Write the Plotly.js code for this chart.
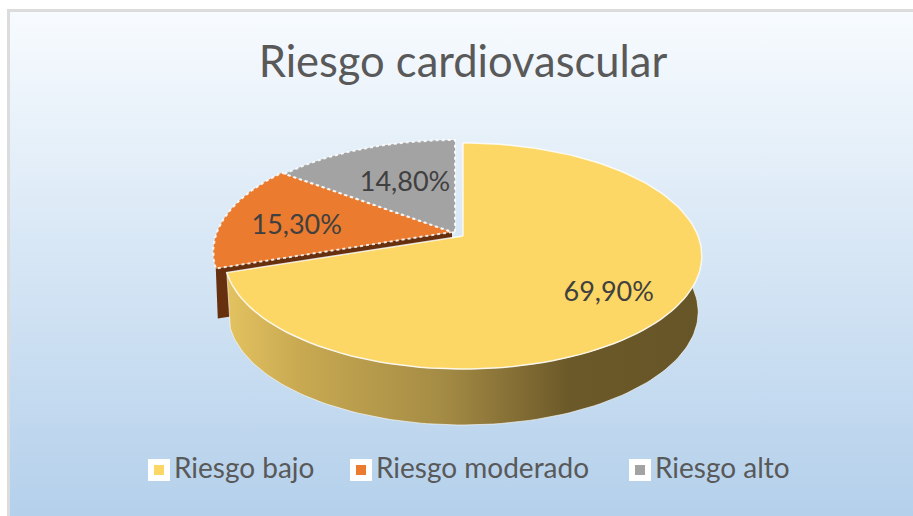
<!DOCTYPE html>
<html><head><meta charset="utf-8">
<script src="https://cdn.plot.ly/plotly-3.0.1.min.js"></script>
<style>
html,body{margin:0;padding:0;background:#fff;width:913px;height:516px;overflow:hidden}
#bg{position:absolute;left:7px;top:9px;right:0;bottom:0;box-sizing:border-box;border-left:3px solid #dcdcdc;border-top:3px solid #dcdcdc;background:linear-gradient(#f7fbfe,#b4d0eb)}
#chart{position:absolute;left:0;top:0;width:913px;height:516px}
</style></head><body>
<div id="bg"></div><div id="chart"></div>
<script>
const chartTitle = 'Riesgo cardiovascular';
const categories = ['Riesgo bajo', 'Riesgo moderado', 'Riesgo alto'];
const shares = [69.9, 15.3, 14.8];
const colors = ['#fcd765', '#eb7b2e', '#a3a3a3'];

// projection of the tilted disc onto the page
const disc = {x0: 463, y0: 236, a: 235, b: 67.7, k: 0.177, depth: 56, shrink: 0.985};
const explode = [[0, 0], [-11, -4], [-8, -3]];
const labelRadius = [0.74, 0.66, 0.58];
const labelNudge = [[-7, 7], [-5, 7], [6, 3]];
const legendX = [159, 361, 640];
const legendY = 470;
const legendTextGap = 15;

function project(fraction, r, shift) {
  const t = fraction * 2 * Math.PI;
  const u = r * Math.sin(t), v = r * Math.cos(t);
  const den = 1 + disc.k * v;
  return [disc.x0 + shift[0] + disc.a * u / den, (disc.y0 - disc.b * v) / den + shift[1]];
}
function arc(f0, f1, shift) {
  const pts = [], n = 120;
  for (let i = 0; i <= n; i++) pts.push(project(f0 + (f1 - f0) * i / n, 1, shift));
  return pts;
}
const total = shares.reduce((a, b) => a + b, 0);
const starts = [];
shares.reduce((acc, s, i) => { starts[i] = acc; return acc + s / total; }, 0);
const ends = starts.map((s, i) => s + shares[i] / total);

function poly(pts, extra) {
  return Object.assign({
    type: 'scatter', mode: 'lines', fill: 'toself', hoverinfo: 'skip', showlegend: false,
    x: pts.map(p => p[0]), y: pts.map(p => p[1])
  }, extra);
}
function wedge(i) {
  const apex = project(0, 0, explode[i]);
  const pts = [apex].concat(arc(starts[i], ends[i], explode[i]));
  pts.push(apex);
  return poly(pts, {
    name: categories[i], fillcolor: colors[i],
    line: i === 0 ? {color: 'rgba(255,255,255,0.8)', width: 1.5}
                  : {color: 'rgba(255,255,255,0.85)', width: 2, dash: 'dot'}
  });
}
const down = p => [disc.x0 + (p[0] - disc.x0) * disc.shrink, p[1] + disc.depth];

// exposed cut face of the moderate slice
const apexO = project(0, 0, explode[1]);
const rimO = project(starts[1], 1, explode[1]);
const face = [rimO, apexO, [apexO[0], apexO[1] + disc.depth - 6], [rimO[0] + 2, rimO[1] + disc.depth - 6], rimO];

// rim of the low slice
const rim = arc(0.2, ends[0], [0, 0]);
const rimBottom = rim.map(down).reverse();
const side = rim.concat(rimBottom);
side.push(rim[0]);

const traces = [
  poly(face, {fillcolor: '#66300f', line: {width: 0}}),
  poly(side, {
    fillgradient: {type: 'horizontal', colorscale: [
      [0, '#e3c260'], [0.15, '#c9aa52'], [0.45, '#a58c45'], [0.72, '#6c5929'], [1, '#665527']
    ]},
    line: {color: 'rgba(255,255,255,0.6)', width: 1}
  }),
  wedge(0), wedge(1), wedge(2)
];

const fmt = v => v.toFixed(2).replace('.', ',') + '%';
shares.forEach((s, i) => {
  const p = project((starts[i] + ends[i]) / 2, labelRadius[i], explode[i]);
  traces.push({
    type: 'scatter', mode: 'text', hoverinfo: 'skip', showlegend: false,
    x: [p[0] + labelNudge[i][0]], y: [p[1] + labelNudge[i][1]], text: [fmt(s)],
    textposition: 'middle center', textfont: {family: 'Lato', size: 27, color: '#404040'}
  });
});
categories.forEach((c, i) => {
  traces.push({
    type: 'scatter', mode: 'markers', hoverinfo: 'skip', showlegend: false, name: c,
    x: [legendX[i]], y: [legendY],
    marker: {symbol: 'square', size: 16, color: colors[i], line: {color: '#ffffff', width: 6}}
  });
  traces.push({
    type: 'scatter', mode: 'text', hoverinfo: 'skip', showlegend: false,
    x: [legendX[i] + legendTextGap], y: [legendY + 1], text: [c], textposition: 'middle right',
    textfont: {family: 'Lato', size: 28, color: '#595959'}
  });
});

const axis = {visible: false, fixedrange: true, showgrid: false, zeroline: false};
Plotly.newPlot('chart', traces, {
  width: 913, height: 516, margin: {l: 0, r: 0, t: 0, b: 0},
  paper_bgcolor: 'rgba(0,0,0,0)', plot_bgcolor: 'rgba(0,0,0,0)', showlegend: false,
  xaxis: Object.assign({range: [0, 913]}, axis),
  yaxis: Object.assign({range: [516, 0]}, axis),
  title: {text: chartTitle, x: 463 / 913, xanchor: 'center', y: 1 - 62 / 516, yanchor: 'middle',
    font: {family: 'Lato', size: 43.5, color: '#595959'}}
}, {staticPlot: true, displayModeBar: false});
</script>
</body></html>
